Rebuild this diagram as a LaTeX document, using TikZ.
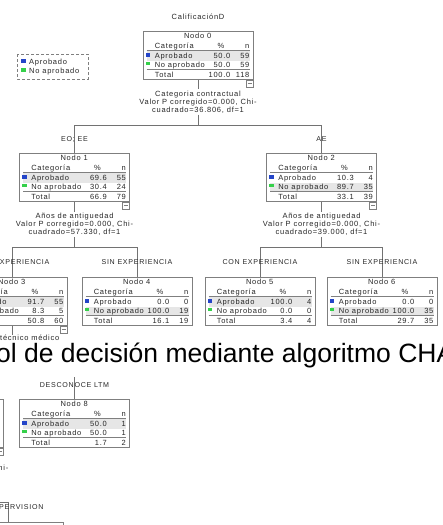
\documentclass[tikz,border=0pt]{standalone}
\usepackage{fontspec}
\setmainfont{Liberation Sans}
\newfontfamily\spssfont[LetterSpace=10]{Liberation Sans}
\usetikzlibrary{positioning}

\definecolor{boxgray}{HTML}{7F7F7F}
\definecolor{rowgray}{HTML}{E6E6E6}
\definecolor{txt}{HTML}{262626}
\definecolor{aprob}{HTML}{2445C8}
\definecolor{noaprob}{HTML}{35D04A}

% one SPSS tree node: #1 number, (#2,#3) top centre, then % and n of Aprobado, No aprobado, Total
\newcommand{\nodo}[9]{%
    \node[treebox] (n#1) at (#2,#3) {};
    \ifnum#5<#7\relax
        \fill[rowgray] ([shift={(4,29.5)}]n#1.north west) rectangle ([shift={(107,38)}]n#1.north west);
    \else
        \fill[rowgray] ([shift={(4,20)}]n#1.north west) rectangle ([shift={(107,29.5)}]n#1.north west);
    \fi
    \draw[rule] ([shift={(4,19.5)}]n#1.north west) -- ++(103,0);
    \draw[rule] ([shift={(4,38)}]n#1.north west) -- ++(103,0);
    \node[cell, anchor=base] at ([shift={(55,7.5)}]n#1.north west) {Nodo #1};
    \node[cell] at ([shift={(12,17.5)}]n#1.north west) {Categoría};
    \node[num] at ([shift={(82,17.5)}]n#1.north west) {\%};
    \node[num] at ([shift={(107,17.5)}]n#1.north west) {n};
    \fill[aprob] ([shift={(3,22)}]n#1.north west) rectangle ++(4.5,3.5);
    \node[cell] at ([shift={(12,27.5)}]n#1.north west) {Aprobado};
    \node[num] at ([shift={(88,27.5)}]n#1.north west) {#4};
    \node[num] at ([shift={(107,27.5)}]n#1.north west) {#5};
    \fill[noaprob] ([shift={(3,30.5)}]n#1.north west) rectangle ++(4.5,3.5);
    \node[cell] at ([shift={(12,36)}]n#1.north west) {No aprobado};
    \node[num] at ([shift={(88,36)}]n#1.north west) {#6};
    \node[num] at ([shift={(107,36)}]n#1.north west) {#7};
    \node[cell] at ([shift={(12,46)}]n#1.north west) {Total};
    \node[num] at ([shift={(88,46)}]n#1.north west) {#8};
    \node[num] at ([shift={(107,46)}]n#1.north west) {#9};
}

\begin{document}
\begin{tikzpicture}[
    x=1pt, y=-1pt, % pixel grid, y grows downwards
    treebox/.style={draw=boxgray, line width=0.8pt, minimum width=110, minimum height=48, inner sep=0pt, anchor=north}, % node table
    rule/.style={draw=boxgray, line width=0.6pt}, % table rules
    cell/.style={font=\spssfont\fontsize{7.5}{8.2}\selectfont, text=txt, inner sep=0pt, anchor=base west}, % table text
    num/.style={cell, anchor=base east}, % right aligned numbers
    minusbox/.style={draw=boxgray, line width=0.6pt, minimum width=7, minimum height=7, inner sep=0pt, anchor=north east}, % collapse button
    split/.style={font=\spssfont\fontsize{7.5}{8.2}\selectfont, text=txt, align=center, inner sep=1pt}, % split variable
    branch/.style={font=\spssfont\fontsize{7.1}{8}\selectfont, text=txt, inner sep=0pt}, % branch labels
    link/.style={draw=boxgray!90!black, line width=0.9pt}, % tree lines
    slide/.style={font=\fontsize{26.5}{30}\selectfont, text=black, inner sep=0pt, anchor=base west} % slide title
]
    \useasboundingbox (0,0) rectangle (442,525);
    \clip (0,0) rectangle (442,525);

    % Target variable and legend
    \node[cell, anchor=base] (target) at (198,19.5) {CalificaciónD};
    \draw[boxgray, line width=0.8pt, dash pattern=on 3pt off 2pt] (17,54) rectangle (88,79);
    \fill[aprob] (21,59) rectangle ++(4.5,3.5);
    \node[cell] (lg1) at (29,64.5) {Aprobado};
    \fill[noaprob] (21,68) rectangle ++(4.5,3.5);
    \node[cell] (lg2) at (29,73.5) {No aprobado};

    % Nodes
    \nodo{0}{198}{31}{50.0}{59}{50.0}{59}{100.0}{118}
    \nodo{1}{74.5}{153}{69.6}{55}{30.4}{24}{66.9}{79}
    \nodo{2}{321.5}{153}{10.3}{4}{89.7}{35}{33.1}{39}
    \nodo{3}{12}{277}{91.7}{55}{8.3}{5}{50.8}{60}
    \nodo{4}{137}{277}{0.0}{0}{100.0}{19}{16.1}{19}
    \nodo{5}{260}{277}{100.0}{4}{0.0}{0}{3.4}{4}
    \nodo{6}{382}{277}{0.0}{0}{100.0}{35}{29.7}{35}
    \nodo{8}{74.5}{399}{50.0}{1}{50.0}{1}{1.7}{2}
    \node[treebox] (n7) at (-52,399) {};

    % Collapse buttons
    \foreach \k in {0,1,2,3,7}
        \node[minusbox] (m\k) at (n\k.south east) {\color{boxgray}\rule[-0.3pt]{4pt}{0.6pt}};

    % Split of node 0
    \node[split] (s0) at (198,102) {Categoria contractual\\Valor P corregido=0.000, Chi-\\cuadrado=36.806, df=1};
    \coordinate (b0) at (198,125.5);
    \draw[link] (n0.south) -- (s0.north);
    \draw[link] (s0.south) -- (b0);
    \draw[link] (b0) -| (n1.north) node[branch, pos=0.75] (e1) {EO; EE};
    \draw[link] (b0) -| (n2.north) node[branch, pos=0.75] (e2) {AE};

    % Split of node 1
    \node[split] (s1) at (74.5,224.5) {Años de antiguedad\\Valor P corregido=0.000, Chi-\\cuadrado=57.330, df=1};
    \coordinate (b1) at (74.5,247.5);
    \draw[link] (n1.south) -- (s1.north);
    \draw[link] (s1.south) -- (b1);
    \draw[link] (b1) -| (n3.north) node[branch, pos=0.75] (e3) {CON EXPERIENCIA};
    \draw[link] (b1) -| (n4.north) node[branch, pos=0.75] (e4) {SIN EXPERIENCIA};

    % Split of node 2
    \node[split] (s2) at (321.5,224.5) {Años de antiguedad\\Valor P corregido=0.000, Chi-\\cuadrado=39.000, df=1};
    \coordinate (b2) at (321.5,247.5);
    \draw[link] (n2.south) -- (s2.north);
    \draw[link] (s2.south) -- (b2);
    \draw[link] (b2) -| (n5.north) node[branch, pos=0.75] (e5) {CON EXPERIENCIA};
    \draw[link] (b2) -| (n6.north) node[branch, pos=0.75] (e6) {SIN EXPERIENCIA};

    % Split of node 3
    \node[split, anchor=north west, inner sep=0pt] (s3) at (0,334.5) {técnico médico};
    \draw[link] (n3.south) -- (n3.south |- s3.north);

    % Lower part of the tree
    \node[split, anchor=east, inner sep=0pt] (s7) at (8.5,469) {Valor P corregido=0.000, Chi-};
    \coordinate (c8) at (74.5,376);
    \draw[link] (c8) -- (n8.north) node[branch, pos=0.4] (e8) {DESCONOCE LTM};
    \node[treebox] (n9) at (8,522) {};
    \coordinate (c9) at (-20,502);
    \draw[link] (c9) -| (n9.north);
    \node[branch, anchor=west] (e9) at (-1,507) {PERVISION};

    % Slide title over the screenshot
    \fill[white] (0,342) rectangle (442,376.5);
    \node[slide] (title) at (-4,362) {ol de decisión mediante algoritmo CHA};

\end{tikzpicture}
\end{document}
